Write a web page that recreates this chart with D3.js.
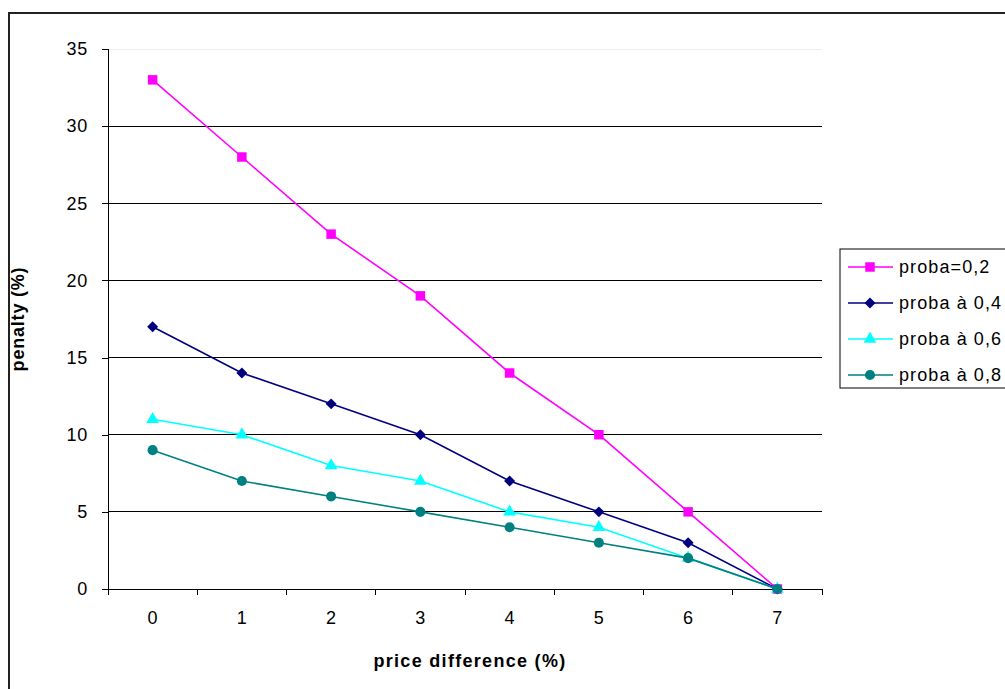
<!DOCTYPE html>
<html>
<head>
<meta charset="utf-8">
<script src="https://cdn.jsdelivr.net/npm/d3@7"></script>
<style>
  html, body { margin: 0; padding: 0; background: #fff; }
  svg { display: block; font-family: "Liberation Sans", Arial, sans-serif; }
</style>
</head>
<body>
<svg id="chart" width="1005" height="689"></svg>
<script>
const categories = ["0", "1", "2", "3", "4", "5", "6", "7"];
const yTicks = [0, 5, 10, 15, 20, 25, 30, 35];

const seriesNames = ["proba=0,2", "proba à 0,4", "proba à 0,6", "proba à 0,8"];
const proba02 = [33, 28, 23, 19, 14, 10, 5, 0];
const proba04 = [17, 14, 12, 10, 7, 5, 3, 0];
const proba06 = [11, 10, 8, 7, 5, 4, 2, 0];
const proba08 = [9, 7, 6, 5, 4, 3, 2, 0];

const series = [
  {name: seriesNames[0], values: proba02, color: "#FF00FF", symbol: d3.symbolSquare, size: 90, rot: 0},
  {name: seriesNames[1], values: proba04, color: "#000080", symbol: d3.symbolSquare, size: 60, rot: 45},
  {name: seriesNames[2], values: proba06, color: "#00FFFF", symbol: d3.symbolTriangle, size: 70, rot: 0},
  {name: seriesNames[3], values: proba08, color: "#008080", symbol: d3.symbolCircle, size: 80, rot: 0}
];

const FONT = 18;
const LS = "0.8px";

const svg = d3.select("#chart");

// chart area border
svg.append("rect")
  .attr("x", 9).attr("y", 13)
  .attr("width", 1010).attr("height", 700)
  .attr("fill", "#fff")
  .attr("stroke", "#222")
  .attr("stroke-width", 2);

const plot = {left: 108, top: 49, right: 822, bottom: 589};

const x = d3.scaleBand()
  .domain(categories)
  .range([plot.left, plot.right]);
const y = d3.scaleLinear()
  .domain([0, 35])
  .range([plot.bottom, plot.top]);

// gridlines
svg.append("g")
  .selectAll("line")
  .data(yTicks.filter(d => d > 0))
  .join("line")
  .attr("x1", plot.left).attr("x2", plot.right)
  .attr("y1", d => y(d)).attr("y2", d => y(d))
  .attr("stroke", d => d === 35 ? "#eeeeee" : "#000")
  .attr("stroke-width", 1)
  .attr("shape-rendering", "crispEdges");

// y axis
const yAxis = svg.append("g")
  .attr("transform", `translate(${plot.left},0)`)
  .call(d3.axisLeft(y).tickValues(yTicks).tickSize(6).tickPadding(14));
yAxis.select(".domain").attr("stroke", "#000").attr("shape-rendering", "crispEdges");
yAxis.selectAll(".tick line").attr("shape-rendering", "crispEdges");
yAxis.selectAll("text")
  .attr("font-size", FONT)
  .attr("letter-spacing", LS)
  .attr("font-family", "Liberation Sans, Arial, sans-serif")
  .attr("fill", "#000");

// x axis with category boundary ticks
svg.append("line")
  .attr("x1", plot.left).attr("x2", plot.right)
  .attr("y1", plot.bottom).attr("y2", plot.bottom)
  .attr("stroke", "#000").attr("shape-rendering", "crispEdges");
const boundaries = categories.map(c => x(c)).concat([x(categories[categories.length - 1]) + x.bandwidth()]);
svg.append("g")
  .selectAll("line")
  .data(boundaries)
  .join("line")
  .attr("x1", d => d).attr("x2", d => d)
  .attr("y1", plot.bottom).attr("y2", plot.bottom + 6)
  .attr("stroke", "#000").attr("shape-rendering", "crispEdges");
svg.append("g")
  .selectAll("text")
  .data(categories)
  .join("text")
  .attr("x", d => x(d) + x.bandwidth() / 2)
  .attr("y", plot.bottom + 35)
  .attr("text-anchor", "middle")
  .attr("font-size", FONT)
  .text(d => d);

// axis titles
svg.append("text")
  .attr("x", (plot.left + plot.right) / 2 + 5)
  .attr("y", 667)
  .attr("text-anchor", "middle")
  .attr("font-size", FONT)
  .attr("letter-spacing", "1.3px")
  .attr("font-weight", "bold")
  .text("price difference (%)");
svg.append("text")
  .attr("transform", `translate(24,${(plot.top + plot.bottom) / 2}) rotate(-90)`)
  .attr("text-anchor", "middle")
  .attr("font-size", FONT)
  .attr("letter-spacing", LS)
  .attr("font-weight", "bold")
  .text("penalty (%)");

// lines and markers
const line = d3.line()
  .x((d, i) => x(categories[i]) + x.bandwidth() / 2)
  .y(d => y(d));

series.forEach(s => {
  svg.append("path")
    .datum(s.values)
    .attr("d", line)
    .attr("fill", "none")
    .attr("stroke", s.color)
    .attr("stroke-width", 1.6);
  svg.append("g")
    .selectAll("path")
    .data(s.values)
    .join("path")
    .attr("transform", (d, i) => `translate(${x(categories[i]) + x.bandwidth() / 2},${y(d)}) rotate(${s.rot})`)
    .attr("d", d3.symbol(s.symbol, s.size))
    .attr("fill", s.color);
});

// legend
const legend = svg.append("g");
legend.append("rect")
  .attr("x", 840).attr("y", 249)
  .attr("width", 200).attr("height", 139)
  .attr("fill", "#fff")
  .attr("stroke", "#000")
  .attr("stroke-width", 1);
const rowY = d3.scalePoint().domain(seriesNames).range([267, 375]);
series.forEach(s => {
  const g = legend.append("g").attr("transform", `translate(0,${rowY(s.name)})`);
  g.append("line")
    .attr("x1", 848).attr("x2", 893)
    .attr("stroke", s.color).attr("stroke-width", 1.6);
  g.append("path")
    .attr("transform", `translate(870,0) rotate(${s.rot})`)
    .attr("d", d3.symbol(s.symbol, s.size))
    .attr("fill", s.color);
  g.append("text")
    .attr("x", 899)
    .attr("dy", "0.35em")
    .attr("font-size", FONT)
    .attr("letter-spacing", "1.1px")
    .text(s.name);
});
</script>
</body>
</html>
